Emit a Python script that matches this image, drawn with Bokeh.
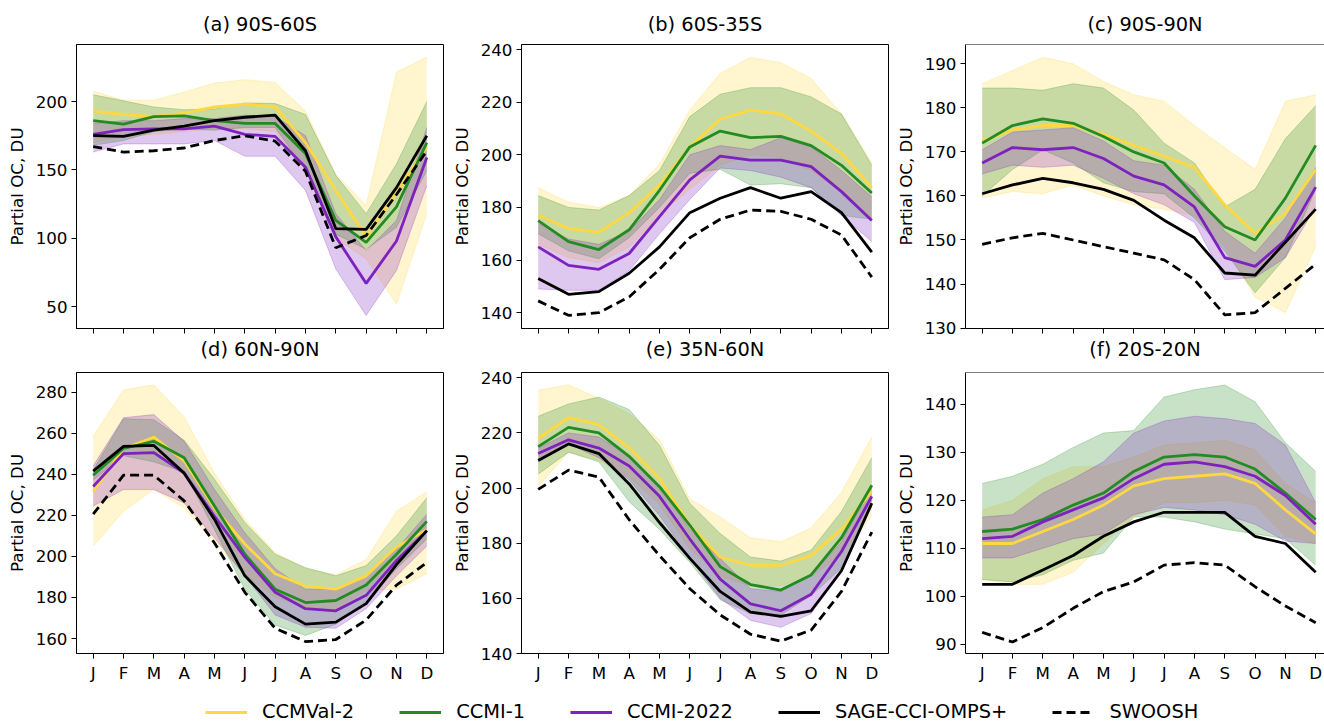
from bokeh.plotting import figure
from bokeh.models import Range1d, FixedTicker, Legend, LegendItem, Span, Title
from bokeh.layouts import column, row
from bokeh.embed import file_html
from bokeh.resources import INLINE

MONTHS = ["J", "F", "M", "A", "M", "J", "J", "A", "S", "O", "N", "D"]
X = list(range(12))

SERIES = ["CCMVal-2", "CCMI-1", "CCMI-2022", "SAGE-CCI-OMPS+", "SWOOSH"]
TITLES = ["(a) 90S-60S", "(b) 60S-35S", "(c) 90S-90N", "(d) 60N-90N", "(e) 35N-60N", "(f) 20S-20N"]
YLABEL = "Partial OC, DU"

# ---- (a) 90S-60S
a_val = [193, 190.5, 189, 191.5, 196, 198, 196, 170, 135, 101, 133, 167]
a_val_lo = [170, 174, 176, 178, 180, 180, 178, 150, 100, 85, 52, 118]
a_val_hi = [207.5, 201, 201, 207, 213.5, 216, 214, 193, 147, 124, 221.5, 232.5]
a_ccmi1 = [186, 183.5, 189, 189.5, 186, 184, 184, 162, 113, 97, 123, 170]
a_ccmi1_lo = [168, 171.5, 178, 180, 179, 181, 181, 150, 103, 92, 108, 149.5]
a_ccmi1_hi = [205, 200.5, 196, 194, 194.5, 199, 198.5, 190.5, 146, 118, 154.5, 200]
a_ccmi22 = [176, 179.5, 180, 180, 182, 176, 174.5, 152, 101, 67, 98, 159]
a_ccmi22_lo = [163, 169, 169, 169, 171.5, 160, 160, 135, 77.5, 43.5, 76.5, 138.5]
a_ccmi22_hi = [184, 186, 186, 187.5, 187.5, 190, 189, 175, 118, 91, 113, 181]
a_sage = [175, 174.5, 179, 182, 186, 188.5, 190, 164, 107, 106.5, 137, 175]
a_swoosh = [167, 163, 164, 166, 171.5, 175, 171, 149, 93, 102, 132, 164]

# ---- (b) 60S-35S
b_val = [177, 172, 170.5, 178, 188.5, 203, 213.5, 217, 215.5, 209, 200.5, 187.5]
b_val_lo = [166, 161, 159, 165, 177, 187, 196, 200, 199, 194, 186, 176]
b_val_hi = [187.5, 182, 180, 184.5, 196.5, 217, 231, 237, 235, 229, 215.5, 197]
b_ccmi1 = [175, 167, 164, 171.5, 186.5, 203, 209, 206.5, 207, 203.5, 196, 185.5]
b_ccmi1_lo = [170, 163.5, 160.5, 168.5, 180, 193, 194.5, 188.5, 189, 187.5, 177, 175.5]
b_ccmi1_hi = [184.5, 180, 179, 184.5, 194, 214.5, 223, 225.5, 225.5, 222, 215.5, 196]
b_ccmi22 = [165, 158, 156.5, 162.5, 176.5, 190.5, 199.5, 198, 198, 195.5, 186, 175]
b_ccmi22_lo = [149, 148.5, 148.5, 156, 170, 183, 195, 194, 191.5, 187.5, 177, 167]
b_ccmi22_hi = [174, 168, 166, 171, 183, 200, 203.5, 202, 206.5, 203, 194, 184]
b_sage = [153, 147, 148, 155, 165, 178, 183.5, 187.5, 183.5, 186, 178, 163]
b_swoosh = [144.5, 139, 140, 146, 156.5, 168.5, 175.5, 179, 178.5, 175.5, 169.5, 153.5]

# ---- (c) 90S-90N
c_val = [172.5, 175, 176, 176, 174, 171.5, 169, 166.5, 158, 151.5, 156, 166]
c_val_lo = [159.5, 161, 160.5, 162.5, 160, 158, 157, 155.5, 148.5, 137, 133.5, 148.5]
c_val_hi = [185.5, 188.5, 191.5, 190, 186, 183, 181.5, 176, 171, 166, 181.5, 183]
c_ccmi1 = [172, 176, 177.5, 176.5, 173.5, 170, 167.5, 160, 153, 150, 159.5, 171.5]
c_ccmi1_lo = [160, 166, 170.5, 167.5, 163, 161, 160.5, 155, 147.5, 138, 146, 161.5]
c_ccmi1_hi = [184.5, 184.5, 184, 185.5, 184.5, 179.5, 172, 167.5, 157.5, 161.5, 173, 180.5]
c_ccmi22 = [167.5, 171, 170.5, 171, 168.5, 164.5, 162.5, 157.5, 146, 144, 150, 162]
c_ccmi22_lo = [165, 167, 166.5, 167, 164, 160.5, 158, 154, 141, 141.5, 146, 157.5]
c_ccmi22_hi = [170.5, 174.5, 175, 175.5, 172.5, 168, 167, 161.5, 152, 147, 155, 166.5]
c_sage = [160.5, 162.5, 164, 163, 161.5, 159, 154.5, 150.5, 142.5, 142, 149.5, 157]
c_swoosh = [149, 150.5, 151.5, 150, 148.5, 147, 145.5, 141, 133, 133.5, 139, 144.5]

# ---- (d) 60N-90N
d_val = [231.5, 252.5, 258, 246.5, 223.5, 206, 191.5, 185.5, 184, 190.5, 204.5, 213]
d_val_lo = [205, 222, 232.5, 223.5, 207, 191, 180, 175.5, 174.5, 183.5, 184, 191.5]
d_val_hi = [258.5, 281, 283.5, 268, 240.5, 218, 202, 194, 191, 198.5, 222, 231.5]
d_ccmi1 = [239.5, 252.5, 256, 248, 224.5, 201, 184, 177.5, 178.5, 186, 201, 217]
d_ccmi1_lo = [237, 249, 246, 241, 213, 184, 166.5, 161.5, 167, 177.5, 194, 208.5]
d_ccmi1_hi = [242, 267, 266.5, 256.5, 237.5, 216.5, 201, 194.5, 190.5, 195.5, 210, 228.5]
d_ccmi22 = [234, 250, 250.5, 240.5, 219.5, 199.5, 182.5, 174.5, 173.5, 181, 198, 212.5]
d_ccmi22_lo = [224.5, 232.5, 232.5, 226, 209, 190.5, 171.5, 165.5, 165, 174.5, 190.5, 205]
d_ccmi22_hi = [244, 267.5, 269, 256, 232.5, 211.5, 194, 184, 184, 190.5, 203.5, 220.5]
d_sage = [241.5, 253.5, 254, 240.5, 218, 190.5, 175.5, 167, 168, 177, 196, 212.5]
d_swoosh = [220.5, 239.5, 239.5, 227, 206.5, 182.5, 165, 158.5, 159.5, 169, 186, 197]

# ---- (e) 35N-60N
e_val = [218, 225.5, 223, 214.5, 203.5, 186.5, 175, 172, 172, 175.5, 185, 199]
e_val_lo = [200.5, 213, 210, 204, 194, 178, 168, 164.5, 164.5, 168, 175.5, 190]
e_val_hi = [235.5, 237.5, 232.5, 227, 217.5, 196, 189.5, 182, 180.5, 185.5, 198.5, 218.5]
e_ccmi1 = [215, 222, 220, 211.5, 200.5, 186.5, 171.5, 165, 163, 168.5, 182, 201]
e_ccmi1_lo = [205, 213, 209.5, 195, 185, 173, 159.5, 154.5, 154, 161, 171, 193.5]
e_ccmi1_hi = [226, 230.5, 233, 228.5, 215.5, 194.5, 183.5, 175, 173.5, 177.5, 191.5, 211]
e_ccmi22 = [212.5, 217.5, 214.5, 208, 197, 181.5, 167, 158, 155.5, 161.5, 177, 197]
e_ccmi22_lo = [209.5, 216, 211, 203, 190, 174.5, 160, 152, 149.5, 154.5, 169.5, 193.5]
e_ccmi22_hi = [214.5, 220, 218.5, 211.5, 200.5, 185, 174.5, 163.5, 162.5, 168.5, 180.5, 200.5]
e_sage = [210, 216, 212.5, 201.5, 187.5, 174.5, 162.5, 155, 153.5, 155.5, 170, 194.5]
e_swoosh = [199.5, 206.5, 204, 188.5, 175.5, 163.5, 154, 147, 144.5, 148.5, 162.5, 184]

# ---- (f) 20S-20N
f_val = [111, 111, 113.5, 116, 119, 123, 124.5, 125, 125.5, 123.5, 118, 113]
f_val_lo = [103.5, 102.5, 102.5, 105, 111, 116.5, 119.5, 119.5, 120, 119, 112.5, 111]
f_val_hi = [118, 120, 124.5, 127, 127, 129, 131.5, 132, 132.5, 130.5, 123.5, 119.5]
f_ccmi1 = [113.5, 114, 116, 119, 121.5, 126, 129, 129.5, 129, 126.5, 121.5, 116]
f_ccmi1_lo = [103.5, 103, 104.5, 107.5, 109, 116.5, 116.5, 115.5, 114, 113, 112, 106.5]
f_ccmi1_hi = [123.5, 125, 127.5, 131, 134, 134.5, 141.5, 143, 144, 140.5, 132, 126]
f_ccmi22 = [112, 112.5, 115.5, 118, 120.5, 124.5, 127.5, 128, 127, 125, 121, 115]
f_ccmi22_lo = [108, 108, 110, 112, 113, 117, 118.5, 118, 117, 115, 111.5, 111]
f_ccmi22_hi = [116.5, 117, 121.5, 124.5, 128, 134, 136.5, 137.5, 137, 136, 131.5, 119.5]
f_sage = [102.5, 102.5, 105.5, 108.5, 112.5, 115.5, 117.5, 117.5, 117.5, 112.5, 111, 105]
f_swoosh = [92.5, 90.5, 93.5, 97.5, 101, 103, 106.5, 107, 106.5, 102, 98, 94.5]

# y-axis ticks per panel
a_ticks = [50, 100, 150, 200]
b_ticks = [140, 160, 180, 200, 220, 240]
c_ticks = [130, 140, 150, 160, 170, 180, 190]
d_ticks = [160, 180, 200, 220, 240, 260, 280]
e_ticks = [140, 160, 180, 200, 220, 240]
f_ticks = [90, 100, 110, 120, 130, 140]

C_VAL = "#FFD740"
C_CCMI1 = "#228B22"
C_CCMI22 = "#7E22BE"
C_OBS = "#000000"
FONT = "DejaVu Sans"

panels = [
    ((a_val, a_val_lo, a_val_hi), (a_ccmi1, a_ccmi1_lo, a_ccmi1_hi), (a_ccmi22, a_ccmi22_lo, a_ccmi22_hi), a_sage, a_swoosh, (34, 241.7), a_ticks),
    ((b_val, b_val_lo, b_val_hi), (b_ccmi1, b_ccmi1_lo, b_ccmi1_hi), (b_ccmi22, b_ccmi22_lo, b_ccmi22_hi), b_sage, b_swoosh, (134, 241.9), b_ticks),
    ((c_val, c_val_lo, c_val_hi), (c_ccmi1, c_ccmi1_lo, c_ccmi1_hi), (c_ccmi22, c_ccmi22_lo, c_ccmi22_hi), c_sage, c_swoosh, (129.9, 194.4), c_ticks),
    ((d_val, d_val_lo, d_val_hi), (d_ccmi1, d_ccmi1_lo, d_ccmi1_hi), (d_ccmi22, d_ccmi22_lo, d_ccmi22_hi), d_sage, d_swoosh, (152.7, 289.5), d_ticks),
    ((e_val, e_val_lo, e_val_hi), (e_ccmi1, e_ccmi1_lo, e_ccmi1_hi), (e_ccmi22, e_ccmi22_lo, e_ccmi22_hi), e_sage, e_swoosh, (140, 241.9), e_ticks),
    ((f_val, f_val_lo, f_val_hi), (f_ccmi1, f_ccmi1_lo, f_ccmi1_hi), (f_ccmi22, f_ccmi22_lo, f_ccmi22_hi), f_sage, f_swoosh, (88.1, 146.6), f_ticks),
]

# layout geometry: (width, left border, right border, x-range end, cropped right)
COLS = [(446, 76, 3, 11.55, False), (444, 75, 2, 11.55, False), (434, 75, 0, 11.29, True)]
# (height, top border, bottom border, show x labels)
ROWS = [(364, 44, 36, False), (321, 8, 30, True)]


def make_title(text, standoff):
    return Title(text=text, align="center", text_font=FONT, text_font_size="19.4px",
                 text_font_style="normal", text_color="black", standoff=standoff)


def make_panel(i):
    val, c1, c22, sage, swoosh, yr, yticks = panels[i]
    width, left, right, xend, cropped = COLS[i % 3]
    height, top, bottom, xlabels = ROWS[i // 3]
    p = figure(width=width, height=height, output_backend="svg", toolbar_location=None,
               x_range=Range1d(-0.55, xend), y_range=Range1d(*yr),
               min_border_left=left, min_border_right=right,
               min_border_top=top, min_border_bottom=bottom)
    p.grid.visible = False
    p.background_fill_color = "white"
    p.border_fill_color = "white"

    for (m, lo, hi), c in [(val, C_VAL), (c1, C_CCMI1), (c22, C_CCMI22)]:
        p.varea(x=X, y1=lo, y2=hi, fill_color=c, fill_alpha=0.25)
        p.line(X, lo, line_color=c, line_alpha=0.25, line_width=1)
        p.line(X, hi, line_color=c, line_alpha=0.25, line_width=1)
    for (m, lo, hi), c in [(val, C_VAL), (c1, C_CCMI1), (c22, C_CCMI22)]:
        p.line(X, m, line_color=c, line_width=2.8)
    p.line(X, sage, line_color=C_OBS, line_width=2.8)
    p.line(X, swoosh, line_color=C_OBS, line_width=2.8, line_dash="9 5")

    xa = p.xaxis[0]
    xa.axis_line_color = "black"
    xa.major_label_text_font = FONT
    xa.major_label_text_color = "black"
    if xlabels:
        xa.ticker = FixedTicker(ticks=X)
        xa.major_label_overrides = {i2: m for i2, m in enumerate(MONTHS)}
        xa.minor_tick_line_color = None
        xa.major_tick_out = 5
        xa.major_tick_in = 0
        xa.major_tick_line_color = "black"
        xa.major_label_text_font_size = "16.7px"
        xa.major_label_standoff = 4
    else:
        # ticks only (shared x axis): minor ticks at the months, no labels
        xa.ticker = FixedTicker(ticks=[], minor_ticks=X)
        xa.minor_tick_out = 5
        xa.minor_tick_in = 0
        xa.minor_tick_line_color = "black"
        xa.major_label_standoff = 0

    ya = p.yaxis[0]
    ya.ticker = FixedTicker(ticks=yticks)
    ya.minor_tick_line_color = None
    ya.major_tick_out = 5
    ya.major_tick_in = 0
    ya.axis_line_color = "black"
    ya.major_tick_line_color = "black"
    ya.major_label_text_font = FONT
    ya.major_label_text_font_size = "16.7px"
    ya.major_label_text_color = "black"
    ya.major_label_standoff = 4
    ya.axis_label = YLABEL
    ya.axis_label_text_font = FONT
    ya.axis_label_text_font_size = "16.7px"
    ya.axis_label_text_font_style = "normal"
    ya.axis_label_text_color = "black"
    ya.axis_label_standoff = 6

    if cropped:
        p.outline_line_color = None
        p.add_layout(Span(location=yr[1], dimension="width", line_color="black", line_width=1))
    else:
        p.outline_line_color = "black"
        p.outline_line_width = 1
        p.outline_line_alpha = 1
    return p


figs = [make_panel(i) for i in range(6)]
# top-row panels carry their own title above, and the title of the panel below
# them underneath (the two rows share the gap, as in the original figure)
for k in range(3):
    figs[k].add_layout(make_title(TITLES[k], 18), "above")
    figs[k].add_layout(make_title(TITLES[k + 3], 4), "below")

leg = figure(width=1324, height=38, output_backend="svg", toolbar_location=None,
             x_range=Range1d(0, 1), y_range=Range1d(0, 1),
             min_border_left=0, min_border_right=0, min_border_top=0, min_border_bottom=0)
leg.axis.visible = False
leg.grid.visible = False
leg.outline_line_color = None
items = []
# proxy renderers: real data lies outside this strip's range, so only the legend shows them
for name, color, dash, ys in [(SERIES[0], C_VAL, "solid", a_val), (SERIES[1], C_CCMI1, "solid", a_ccmi1),
                              (SERIES[2], C_CCMI22, "solid", a_ccmi22), (SERIES[3], C_OBS, "solid", a_sage),
                              (SERIES[4], C_OBS, "9 5", a_swoosh)]:
    r = leg.line(X, ys, line_color=color, line_width=2.8, line_dash=dash)
    items.append(LegendItem(label=name, renderers=[r]))
legend = Legend(items=items, orientation="horizontal", location=(205, 0),
                glyph_width=42, glyph_height=20, label_standoff=15, spacing=45,
                padding=0, margin=0, border_line_color=None, background_fill_alpha=0,
                label_text_font=FONT, label_text_font_size="19.4px", label_text_color="black")
leg.add_layout(legend)

layout = column(row(figs[0], figs[1], figs[2]), row(figs[3], figs[4], figs[5]), leg)

open("out.html", "w").write(file_html(layout, INLINE))
